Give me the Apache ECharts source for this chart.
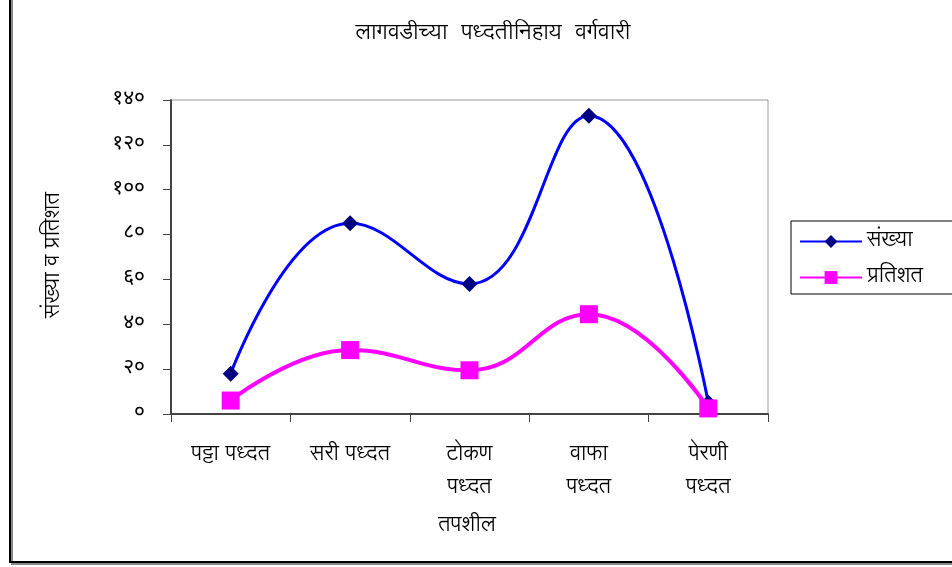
<!DOCTYPE html>
<html><head><meta charset="utf-8">
<script src="https://cdn.jsdelivr.net/npm/echarts@6/dist/echarts.min.js"></script>
<style>html,body{margin:0;padding:0;background:#fff}#c{width:952px;height:567px}</style>
</head><body><div id="c"></div>
<script>
const categories = ['पट्टा पध्दत', 'सरी पध्दत', 'टोकण\nपध्दत', 'वाफा\nपध्दत', 'पेरणी\nपध्दत'];
const sankhya = [18, 85, 58, 133, 5];
const pratishat = [6, 28.5, 19.5, 44.5, 2.5];
const yTickLabels = ['०', '२०', '४०', '६०', '८०', '१००', '१२०', '१४०'];
const FONT = '"Lohit Devanagari", "Noto Sans Devanagari", sans-serif';
const DIGIT_FONT = '"Noto Sans Devanagari", "Lohit Devanagari", sans-serif';

const chart = echarts.init(document.getElementById('c'), null, {renderer: 'canvas'});
chart.setOption({
  animation: false,
  backgroundColor: '#fff',
  textStyle: {fontFamily: FONT, color: '#000'},
  title: {
    text: 'लागवडीच्या  पध्दतीनिहाय  वर्गवारी',
    left: 488, top: 18, textAlign: 'center',
    textStyle: {fontFamily: FONT, fontSize: 22, fontWeight: 'normal', color: '#000'}
  },
  graphic: [
    {type: 'rect', shape: {x: 12, y: -5, width: 960, height: 569}, style: {fill: 'none', stroke: '#888', lineWidth: 2}},
    {type: 'rect', shape: {x: 10, y: -5, width: 960, height: 567}, style: {fill: 'none', stroke: '#000', lineWidth: 2}},
    {type: 'text', x: 467, y: 526, style: {text: 'तपशील', font: '21px ' + FONT, fill: '#000', align: 'center', verticalAlign: 'middle'}},
    {type: 'text', x: 54, y: 255, rotation: Math.PI / 2, style: {text: 'संख्या व प्रतिशत', font: '21px ' + FONT, fill: '#000', align: 'center', verticalAlign: 'middle'}}
  ],
  legend: {
    orient: 'vertical', left: 791, top: 221,
    padding: [9, 40, 5, 8], itemGap: 13,
    itemWidth: 62, itemHeight: 16,
    borderColor: '#000', borderWidth: 1,
    textStyle: {fontFamily: FONT, fontSize: 21, lineHeight: 23, color: '#000'},
    data: ['संख्या', 'प्रतिशत']
  },
  grid: {left: 171, right: 184, top: 100, bottom: 153, show: true, borderColor: '#999', borderWidth: 1, backgroundColor: '#fff'},
  xAxis: {
    type: 'category', data: categories, boundaryGap: true,
    axisLine: {lineStyle: {color: '#444', width: 2}},
    axisTick: {show: true, length: 8, lineStyle: {color: '#444'}},
    axisLabel: {margin: 25, fontSize: 21, lineHeight: 33, color: '#000', fontFamily: FONT, interval: 0}
  },
  yAxis: {
    type: 'value', min: 0, max: 140, interval: 20,
    axisLine: {show: true, lineStyle: {color: '#444', width: 2}},
    axisTick: {show: true, length: 8, lineStyle: {color: '#444'}},
    splitLine: {show: false},
    axisLabel: {margin: 26, fontSize: 21, color: '#000', fontFamily: DIGIT_FONT,
      formatter: function (v) { return yTickLabels[Math.round(v / 20)]; }}
  },
  series: [
    {name: 'संख्या', type: 'line', data: sankhya, smooth: 0.45,
      symbol: 'diamond', symbolSize: 16,
      lineStyle: {color: '#0000FF', width: 3},
      itemStyle: {color: '#000080'}, z: 3},
    {name: 'प्रतिशत', type: 'line', data: pratishat, smooth: 0.45,
      symbol: 'rect', symbolSize: 18,
      lineStyle: {color: '#FF00FF', width: 4},
      itemStyle: {color: '#FF00FF'}, z: 4}
  ]
});
</script></body></html>
